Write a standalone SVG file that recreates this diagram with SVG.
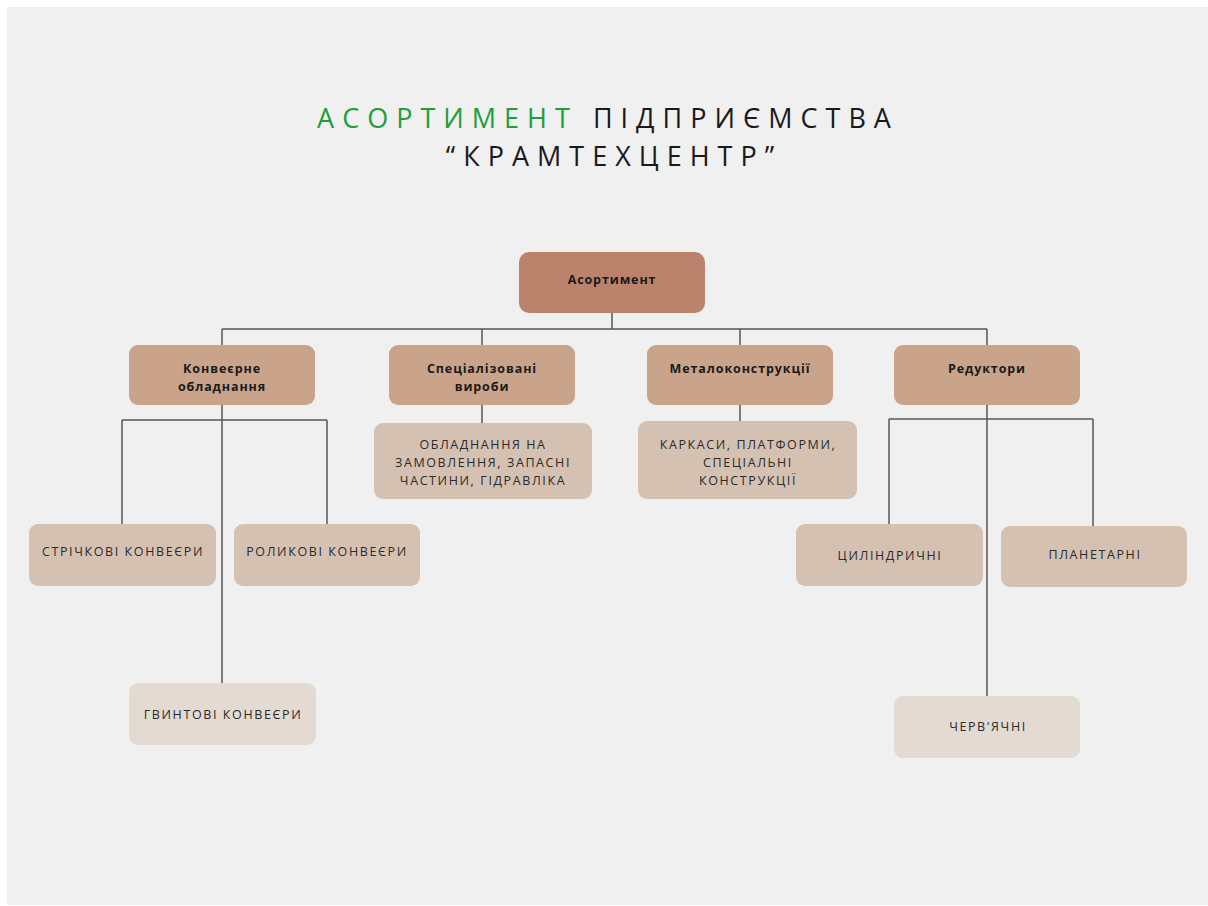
<svg xmlns="http://www.w3.org/2000/svg" width="1208" height="906" viewBox="0 0 1208 906">
<style>
.title{font-family:"Open Sans","Liberation Sans",sans-serif;font-size:27px;letter-spacing:8px;fill:#1a1a1a;text-anchor:middle}
.green{fill:#1f9e3a}
.root{fill:#bb836c}
.l2{fill:#c9a48b}
.l3{fill:#d5c1b1}
.l4{fill:#e3dad1}
.bl{font-family:"Open Sans","Liberation Sans",sans-serif;font-size:12.5px;font-weight:700;letter-spacing:0.9px;fill:#1a1a1a;text-anchor:middle}
.up{font-family:"Open Sans","Liberation Sans",sans-serif;font-size:12.5px;letter-spacing:1.6px;fill:#2b2b2b;text-anchor:middle}
.ln{stroke:#555;stroke-width:1.5;fill:none}
</style>
<rect x="0" y="0" width="1208" height="906" fill="#ffffff"/>
<rect x="7" y="7" width="1201" height="898" fill="#f0f0f0"/>
<g id="title">
<text class="title" x="608" y="128"><tspan class="green">АСОРТИМЕНТ</tspan> ПІДПРИЄМСТВА</text>
<text class="title" x="614" y="166">“КРАМТЕХЦЕНТР”</text>
</g>
<g id="connectors">
<path class="ln" d="M612 313V329M222 329H987M222 329V345M482 329V345M740 329V345M987 329V345"/>
<path class="ln" d="M222 405V684M122 420H327M122 420V524M327 420V524"/>
<path class="ln" d="M482 405V423M740 405V421"/>
<path class="ln" d="M987 405V696M889 419H1093M889 419V524M1093 419V526"/>
</g>
<g id="n-root"><rect class="root" x="519" y="252" width="186" height="61" rx="10"/><text class="bl" x="612" y="284">Асортимент</text></g>
<g id="n-konv"><rect class="l2" x="129" y="345" width="186" height="60" rx="9"/><text class="bl" x="222" y="373">Конвеєрне</text><text class="bl" x="222" y="391">обладнання</text></g>
<g id="n-spec"><rect class="l2" x="389" y="345" width="186" height="60" rx="9"/><text class="bl" x="482" y="373">Спеціалізовані</text><text class="bl" x="482" y="391">вироби</text></g>
<g id="n-metal"><rect class="l2" x="647" y="345" width="186" height="60" rx="9"/><text class="bl" x="740" y="373">Металоконструкції</text></g>
<g id="n-red"><rect class="l2" x="894" y="345" width="186" height="60" rx="9"/><text class="bl" x="987" y="373">Редуктори</text></g>
<g id="n-spec-items"><rect class="l3" x="374" y="423" width="218" height="76" rx="9"/><text class="up" x="483" y="449">ОБЛАДНАННЯ НА</text><text class="up" x="483" y="467">ЗАМОВЛЕННЯ, ЗАПАСНІ</text><text class="up" x="483" y="485">ЧАСТИНИ, ГІДРАВЛІКА</text></g>
<g id="n-metal-items"><rect class="l3" x="638" y="421" width="219" height="78" rx="9"/><text class="up" x="748" y="449">КАРКАСИ, ПЛАТФОРМИ,</text><text class="up" x="748" y="467">СПЕЦІАЛЬНІ</text><text class="up" x="748" y="485">КОНСТРУКЦІЇ</text></g>
<g id="n-strich"><rect class="l3" x="29" y="524" width="187" height="62" rx="9"/><text class="up" x="123" y="556">СТРІЧКОВІ КОНВЕЄРИ</text></g>
<g id="n-rolik"><rect class="l3" x="234" y="524" width="186" height="62" rx="9"/><text class="up" x="327" y="556">РОЛИКОВІ КОНВЕЄРИ</text></g>
<g id="n-gvint"><rect class="l4" x="129" y="683" width="187" height="62" rx="9"/><text class="up" x="223" y="719">ГВИНТОВІ КОНВЕЄРИ</text></g>
<g id="n-cyl"><rect class="l3" x="796" y="524" width="187" height="62" rx="9"/><text class="up" x="890" y="560">ЦИЛІНДРИЧНІ</text></g>
<g id="n-plan"><rect class="l3" x="1001" y="526" width="186" height="61" rx="9"/><text class="up" x="1095" y="559">ПЛАНЕТАРНІ</text></g>
<g id="n-cherv"><rect class="l4" x="894" y="696" width="186" height="62" rx="9"/><text class="up" x="988" y="731">ЧЕРВ'ЯЧНІ</text></g>
</svg>
